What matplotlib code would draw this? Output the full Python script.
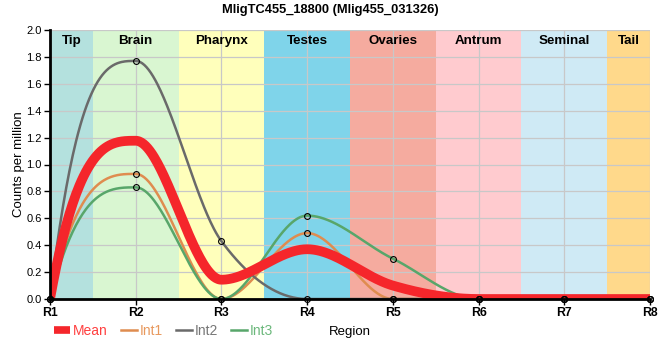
import numpy as np
import matplotlib
matplotlib.use("Agg")
import matplotlib.pyplot as plt
from matplotlib.lines import Line2D

title = "MligTC455_18800 (Mlig455_031326)"
regions = ["R1", "R2", "R3", "R4", "R5", "R6", "R7", "R8"]
int1 = [0.0, 0.93, 0.0, 0.49, 0.0, 0.0, 0.0, 0.0]
int2 = [0.0, 1.77, 0.43, 0.0, 0.0, 0.0, 0.0, 0.0]
int3 = [0.0, 0.83, 0.0, 0.62, 0.30, 0.0, 0.0, 0.0]
mean = list(np.mean([int1, int2, int3], axis=0))

tissues = ["Tip", "Brain", "Pharynx", "Testes", "Ovaries", "Antrum", "Seminal", "Tail"]
tissue_bounds = [(0, 0.5), (0.5, 1.5), (1.5, 2.5), (2.5, 3.5), (3.5, 4.5), (4.5, 5.5), (5.5, 6.5), (6.5, 7)]
tissue_colors = ["#b4e1de", "#d9f6d1", "#ffffbb", "#7fd4ea", "#f5ab9f", "#ffcbcf", "#cfeaf5", "#ffd98b"]

SANS = "Liberation Sans"


def smooth(xs, ys, n=80):
    """Monotone cubic Hermite curve through the points (steeper ends)."""
    xs = np.asarray(xs, float); ys = np.asarray(ys, float)
    h = np.diff(xs); s = np.diff(ys) / h
    m = np.zeros(len(xs))
    for i in range(1, len(xs) - 1):
        s0, s1 = s[i - 1], s[i]
        p = (s0 * h[i] + s1 * h[i - 1]) / (h[i - 1] + h[i])
        m[i] = (np.sign(s0) + np.sign(s1)) * min(abs(s0), abs(s1), 0.5 * abs(p))
    m[0] = 3 * s[0] - 2 * m[1] if m[1] * s[0] >= 0 else s[0]
    m[-1] = 3 * s[-1] - 2 * m[-2] if m[-2] * s[-1] >= 0 else s[-1]
    X, Y = [], []
    t = np.linspace(0, 1, n)
    h00 = 2 * t**3 - 3 * t**2 + 1; h10 = t**3 - 2 * t**2 + t
    h01 = -2 * t**3 + 3 * t**2; h11 = t**3 - t**2
    for i in range(len(xs) - 1):
        X.extend(xs[i] + t * h[i])
        Y.extend(h00 * ys[i] + h10 * h[i] * m[i] + h01 * ys[i + 1] + h11 * h[i] * m[i + 1])
    return np.array(X), np.array(Y)


fig = plt.figure(figsize=(6.6, 3.6), dpi=100)
ax = fig.add_axes([50 / 660, 61 / 360, 600 / 660, 269 / 360])

x = np.arange(len(regions))
ax.set_xlim(0, 7)
ax.set_ylim(0, 2.0)

for (a, b), c, name in zip(tissue_bounds, tissue_colors, tissues):
    ax.axvspan(a, b, color=c, zorder=0, lw=0)
    ax.text((a + b) / 2, 1.917, name, ha="center", va="center", fontsize=9.6,
            fontweight="bold", family=SANS, zorder=5)

yt = np.arange(0, 2.01, 0.2)
ax.set_yticks(yt)
ax.set_yticklabels([f"{v:.1f}" for v in yt], fontsize=8, family=SANS)
ax.set_xticks(x)
ax.set_xticklabels(regions, fontsize=8.8, fontweight="bold", family=SANS)
ax.grid(True, color="#c8c8c8", lw=0.9)
for gl in ax.get_xgridlines() + ax.get_ygridlines():
    gl.set_zorder(1)
for sp in ["top", "right"]:
    ax.spines[sp].set_visible(False)
for sp in ["left", "bottom"]:
    ax.spines[sp].set_linewidth(2)
    ax.spines[sp].set_zorder(6)
ax.tick_params(length=4, width=1, pad=2)
ax.set_ylabel("Counts per million", fontsize=9.5, family=SANS, labelpad=1)
ax.set_xlabel("Region", fontsize=9.5, family=SANS, labelpad=5)

series = [("Int1", int1, "#df8c4f"), ("Int2", int2, "#6a6a6a"), ("Int3", int3, "#58a66a")]
for name, ys, col in series:
    X, Y = smooth(x, ys)
    ax.plot(X, Y, color=col, lw=1.8, zorder=3)
X, Y = smooth(x, mean)
ax.plot(X, Y, color="#f5262b", lw=7, zorder=3.5, solid_capstyle="butt")
for name, ys, col in series:
    ax.plot(x, ys, ls="none", marker="o", ms=4.2, mfc="none", mec="black", mew=0.8,
            zorder=7, clip_on=False)

handles = [Line2D([], [], color="#f5262b", lw=5.5, solid_capstyle="butt"),
           Line2D([], [], color="#df8c4f", lw=1.8),
           Line2D([], [], color="#6a6a6a", lw=1.8),
           Line2D([], [], color="#58a66a", lw=1.8)]
leg = fig.legend(handles, ["Mean", "Int1", "Int2", "Int3"], loc="center left",
                 bbox_to_anchor=(54 / 660, 1 - 331 / 360), ncol=4, frameon=False,
                 handlelength=1.15, handletextpad=0.2, columnspacing=0.95,
                 borderpad=0, borderaxespad=0, prop={"family": SANS, "size": 10})
for t, c in zip(leg.get_texts(), ["#ff4040", "#e8995e", "#777777", "#6cb87c"]):
    t.set_color(c)

fig.text(0.5, 1 - 10 / 360, title, ha="center", va="center", fontsize=9.3,
         fontweight="bold", family=SANS)
fig.savefig("out.png", dpi=100)
